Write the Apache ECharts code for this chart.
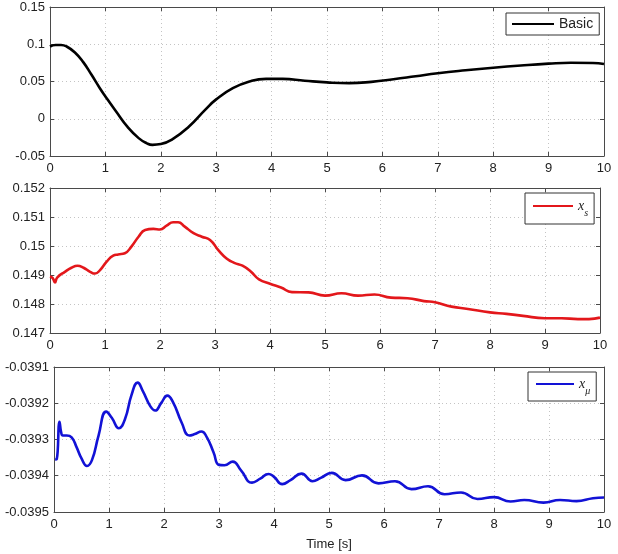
<!DOCTYPE html>
<html>
<head>
<meta charset="utf-8">
<script src="https://cdn.jsdelivr.net/npm/echarts@6/dist/echarts.min.js"></script>
<style>html,body{margin:0;padding:0;background:#fff}#c{width:618px;height:554px}</style>
</head>
<body>
<div id="c"></div>
<script>
// ---- data ----
const basicT = [0,0.1,0.2,0.3,0.45,0.6,0.75,0.9,1.0,1.2,1.4,1.6,1.75,1.85,2.0,2.2,2.5,2.8,3.0,3.3,3.6,3.9,4.2,4.6,5.0,5.4,5.8,6.2,6.6,7.0,7.5,8.0,8.5,9.0,9.4,9.8,10];
const basicV = [0.097,0.099,0.099,0.097,0.089,0.076,0.059,0.041,0.030,0.009,-0.011,-0.026,-0.033,-0.035,-0.034,-0.028,-0.011,0.012,0.026,0.041,0.050,0.0535,0.0535,0.0510,0.0488,0.0478,0.0495,0.0530,0.0570,0.0610,0.0650,0.0685,0.0715,0.0740,0.0752,0.0748,0.0735];

const xsT = [0,0.05,0.09,0.13,0.27,0.39,0.5,0.61,0.73,0.82,0.91,1.03,1.15,1.24,1.36,1.48,1.61,1.73,1.88,2.0,2.12,2.24,2.33,2.45,2.61,2.76,2.91,3.06,3.21,3.35,3.5,3.65,3.8,4.0,4.2,4.4,4.7,5.0,5.3,5.6,5.9,6.2,6.5,6.8,7.0,7.3,7.6,8.0,8.3,8.6,9.0,9.3,9.6,9.8,10];
const xsV = [0.14895,0.14889,0.14874,0.14891,0.14911,0.14925,0.14932,0.14925,0.14911,0.14905,0.14917,0.14946,0.14967,0.14971,0.14975,0.14998,0.15032,0.15055,0.15059,0.15057,0.1507,0.15082,0.15082,0.15067,0.15044,0.15032,0.15021,0.14986,0.14957,0.14942,0.14932,0.14912,0.14885,0.1487,0.14857,0.14841,0.1484,0.14829,0.14837,0.14829,0.14833,0.14822,0.1482,0.1481,0.14806,0.14791,0.14783,0.14771,0.14766,0.14759,0.14751,0.14751,0.14748,0.14748,0.14753];

const xmuT = [0.02,0.05,0.1,0.13,0.16,0.23,0.32,0.41,0.5,0.6,0.69,0.81,0.95,1.05,1.18,1.29,1.41,1.52,1.62,1.75,1.84,1.95,2.06,2.17,2.32,2.46,2.56,2.68,2.78,2.9,3.0,3.1,3.25,3.4,3.6,3.75,3.9,4.0,4.15,4.3,4.5,4.7,4.85,5.05,5.3,5.6,5.9,6.2,6.5,6.8,7.1,7.4,7.7,8.0,8.3,8.55,8.9,9.2,9.5,9.8,10];
const xmuV = [-0.039355,-0.039354,-0.039251,-0.03928,-0.039289,-0.039289,-0.039294,-0.039321,-0.039352,-0.039373,-0.039357,-0.039289,-0.039223,-0.03924,-0.039269,-0.039244,-0.039177,-0.039143,-0.039168,-0.039208,-0.03922,-0.039199,-0.039179,-0.039199,-0.039253,-0.039289,-0.039285,-0.039278,-0.039294,-0.039335,-0.03937,-0.039371,-0.039361,-0.039385,-0.039419,-0.039408,-0.039395,-0.039403,-0.039423,-0.039412,-0.039394,-0.039415,-0.039406,-0.039392,-0.039412,-0.039399,-0.039421,-0.039415,-0.039437,-0.039429,-0.039451,-0.039446,-0.039464,-0.039459,-0.039471,-0.039467,-0.039474,-0.039467,-0.03947,-0.039462,-0.03946];

const xTicks = {min:0, max:10, interval:1};
const yRanges = [
  {min:-0.05, max:0.15, interval:0.05},
  {min:0.147, max:0.152, interval:0.001},
  {min:-0.0395, max:-0.0391, interval:0.0001}
];

// ---- chart ----
const FONT = "'Liberation Sans', Arial, Helvetica, sans-serif";
const frameColor = '#4a4a4a';
const grids = [
  {left:50, right:14, top:7, height:149},
  {left:50, right:18, top:188, height:145},
  {left:54, right:14, top:367, height:145}
];
const fmt = v => String(parseFloat(Number(v).toFixed(6)));
const xAxes = [], yAxes = [];
grids.forEach((g, i) => {
  const tick = {show:true, inside:true, length:4, lineStyle:{color:frameColor}};
  const line = {show:true, onZero:false, lineStyle:{color:frameColor, width:1}};
  xAxes.push({
    type:'value', gridIndex:i, position:'bottom', min:xTicks.min, max:xTicks.max, interval:xTicks.interval,
    axisLine:line, axisTick:tick,
    axisLabel:{color:'#222', fontFamily:FONT, fontSize:13, margin:6, formatter:fmt},
    splitLine:{show:true, lineStyle:{color:'#c4c4c4', type:[1,3], width:1}},
    name: i === 2 ? 'Time [s]' : '', nameLocation:'middle', nameGap:26,
    nameTextStyle:{color:'#222', fontFamily:FONT, fontSize:13}
  });
  xAxes.push({
    type:'value', gridIndex:i, position:'top', min:xTicks.min, max:xTicks.max, interval:xTicks.interval,
    axisLine:line, axisTick:tick, axisLabel:{show:false}, splitLine:{show:false}
  });
  const r = yRanges[i];
  yAxes.push({
    type:'value', gridIndex:i, position:'left', min:r.min, max:r.max, interval:r.interval,
    axisLine:line, axisTick:tick,
    axisLabel:{color:'#222', fontFamily:FONT, fontSize:13, margin:5, formatter:fmt},
    splitLine:{show:true, lineStyle:{color:'#c4c4c4', type:[1,3], width:1}}
  });
  yAxes.push({
    type:'value', gridIndex:i, position:'right', min:r.min, max:r.max, interval:r.interval,
    axisLine:line, axisTick:tick, axisLabel:{show:false}, splitLine:{show:false}
  });
});

const zip = (t, v) => t.map((x, k) => [x, v[k]]);
const mkSeries = (name, t, v, color, i) => ({
  name, type:'line', xAxisIndex:2*i, yAxisIndex:2*i, data:zip(t, v),
  smooth:0.5, symbol:'none', lineStyle:{color, width:2.6}, itemStyle:{color}, animation:false
});

const legendBase = {
  orient:'horizontal', borderColor:'#333', borderWidth:1, backgroundColor:'#fff',
  borderRadius:0, itemHeight:14, icon:'path://M0,6L40,6L40,8L0,8Z'
};
const rich = {
  i:{fontFamily:"'Liberation Serif', serif", fontStyle:'italic', fontSize:14, color:'#222'},
  s:{fontFamily:"'Liberation Serif', serif", fontStyle:'italic', fontSize:10, color:'#222', padding:[14,0,0,0]}
};

const option = {
  animation:false,
  backgroundColor:'#fff',
  grid: grids,
  xAxis: xAxes,
  yAxis: yAxes,
  legend: [
    Object.assign({}, legendBase, {data:['Basic'], left:506, top:13, padding:[4,6,4,6], itemWidth:42,
      textStyle:{color:'#222', fontFamily:FONT, fontSize:14}}),
    Object.assign({}, legendBase, {data:['x_s'], left:525, top:193, padding:[6,6,6,8], itemWidth:40,
      formatter:() => '{i|x}{s|s}', textStyle:{rich}}),
    Object.assign({}, legendBase, {data:['x_mu'], left:528, top:372, padding:[5,6,5,8], itemWidth:38,
      formatter:() => '{i|x}{s|μ}', textStyle:{rich}})
  ],
  series: [
    mkSeries('Basic', basicT, basicV, '#000000', 0),
    mkSeries('x_s', xsT, xsV, '#e3171b', 1),
    mkSeries('x_mu', xmuT, xmuV, '#1212d6', 2)
  ]
};
const chart = echarts.init(document.getElementById('c'), null, {renderer:'canvas'});
chart.setOption(option);
</script>
</body>
</html>
